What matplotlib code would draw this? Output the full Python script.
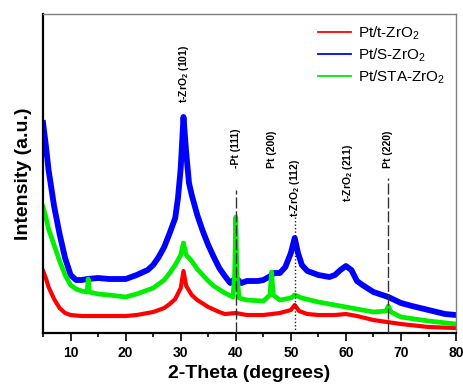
import numpy as np
import matplotlib
matplotlib.use("Agg")
from matplotlib import pyplot as plt
from matplotlib.ticker import MultipleLocator
from matplotlib.lines import Line2D

plt.rcParams['font.family'] = ['Liberation Sans', 'DejaVu Sans']
plt.rcParams['mathtext.default'] = 'regular'

# XRD patterns (intensity in arbitrary units)
x_blue = [5, 5.5, 6, 7, 8, 9, 10, 11, 12, 13, 15, 17, 20, 22, 24, 25, 26, 27, 28, 29,
          29.5, 30, 30.5, 31, 31.5, 32, 33, 34, 35, 36, 37, 38, 39, 40, 41, 42, 44, 45,
          46, 47, 48, 49, 50, 50.7, 51.3, 52, 53, 55, 57, 58, 59, 60, 61, 62, 63, 65,
          67.7, 70, 72, 75, 78, 80]
y_blue = [210, 188, 163, 127, 99, 75, 58, 53, 53, 54, 55, 54, 54, 58, 63, 68, 76, 86, 100, 115,
          135, 165, 216, 180, 150, 138, 118, 102, 88, 76, 65, 57, 50, 55, 50, 52, 52, 53,
          56, 60, 60, 66, 80, 95, 80, 68, 62, 58, 56, 58, 63, 67, 63, 52, 48, 41,
          36, 30, 27, 23, 19, 18]

x_green = [5, 5.5, 6, 7, 8, 9, 10, 11, 12, 13, 13.2, 13.4, 15, 17, 20, 22, 25, 27, 28, 29,
           30, 30.5, 31, 32, 33, 34, 35, 36, 38, 39.5, 39.8, 40, 40.2, 40.6, 42, 45, 46.2,
           46.5, 46.8, 48, 50, 50.7, 52, 55, 60, 65, 67.3, 67.7, 68.2, 70, 75, 80]
y_green = [126, 116, 104, 88, 72, 58, 48, 44, 42, 41, 54, 41, 39, 38, 36, 39, 45, 53, 60, 68,
           78, 90, 78, 72, 64, 58, 52, 47, 40, 36, 60, 116, 60, 35, 33, 32, 38,
           61, 38, 33, 35, 38, 35, 31, 26, 21, 22, 27, 21, 16, 12, 9]

x_red = [5, 5.5, 6, 7, 8, 9, 10, 12, 15, 20, 22, 25, 27, 28, 29, 30, 30.5, 31, 32, 33,
         35, 37, 38, 40, 42, 45, 48, 50, 50.7, 51.5, 53, 55, 58, 60, 62, 65, 70, 75, 80]
y_red = [62, 55, 46, 34, 25, 20, 18, 17, 17, 17, 18, 21, 25, 29, 34, 45, 62, 47, 38, 33,
         26, 21, 19, 20, 18, 18, 20, 23, 28, 22, 19, 18, 18, 19, 17, 13, 9, 6, 5]

# reflection markers
peak_pos = [30.6, 40.0, 46.6, 50.75, 60.4, 67.7]
peak_text = [r't-ZrO$_2$ (101)', '-Pt (111)', 'Pt (200)', r't-ZrO$_2$ (112)',
             r't-ZrO$_2$ (211)', 'Pt (220)']
peak_text_y = [230, 165, 165, 116, 131, 165]

series_names = [r'Pt/t-ZrO$_2$', r'Pt/S-ZrO$_2$', r'Pt/STA-ZrO$_2$']
series_colors = ['#ff0000', '#0000ff', '#00ee00']

fig = plt.figure(figsize=(4.63, 3.87), dpi=100)
ax = fig.add_axes([0.093, 0.1395, 0.892, 0.8243])

ax.plot(x_red, y_red, color=series_colors[0], lw=3.0, solid_joinstyle='round')
ax.plot(x_blue, y_blue, color=series_colors[1], lw=4.2, solid_joinstyle='round')
ax.plot(x_green, y_green, color=series_colors[2], lw=3.4, solid_joinstyle='round')

ax.vlines(40.0, 0, 143, colors='#333333', lw=1, linestyles=(0, (8, 2)), zorder=4)
ax.vlines(67.7, 0, 155, colors='#333333', lw=1, linestyles=(0, (8, 2)), zorder=4)
ax.vlines(50.75, 0, 116, colors='#222222', lw=1, linestyles=(0, (1, 1.5)), zorder=4)

for px, txt, ty in zip(peak_pos, peak_text, peak_text_y):
    ax.text(px, ty, txt, rotation=90, ha='center', va='bottom',
            fontsize=7.5, fontweight='bold')

ax.set_xlim(5, 80)
ax.set_ylim(0, 319)
ax.xaxis.set_major_locator(MultipleLocator(10))
ax.xaxis.set_minor_locator(MultipleLocator(5))
ax.set_xticks([10, 20, 30, 40, 50, 60, 70, 80])
ax.set_yticks([])
ax.tick_params(axis='x', which='major', direction='out', length=6, width=1.2,
               labelsize=10, pad=3)
ax.tick_params(axis='x', which='minor', direction='out', length=3, width=1.2)
for lbl in ax.get_xticklabels():
    lbl.set_fontweight('bold')

for side in ['left', 'bottom']:
    ax.spines[side].set_linewidth(1.6)
    ax.spines[side].set_color('black')
for side in ['top', 'right']:
    ax.spines[side].set_linewidth(1.0)
    ax.spines[side].set_color('#808080')

ax.set_xlabel('2-Theta (degrees)', fontsize=14, fontweight='bold', labelpad=4)
ax.set_ylabel('Intensity (a.u.)', fontsize=14, fontweight='bold', labelpad=8)

handles = [Line2D([], [], color=c, lw=1.3) for c in series_colors]
ax.legend(handles, series_names, loc='upper right', frameon=False, fontsize=11,
          handlelength=2.2, handletextpad=0.45, labelspacing=0.3, borderaxespad=0.3)

fig.savefig('out.png', dpi=100)
